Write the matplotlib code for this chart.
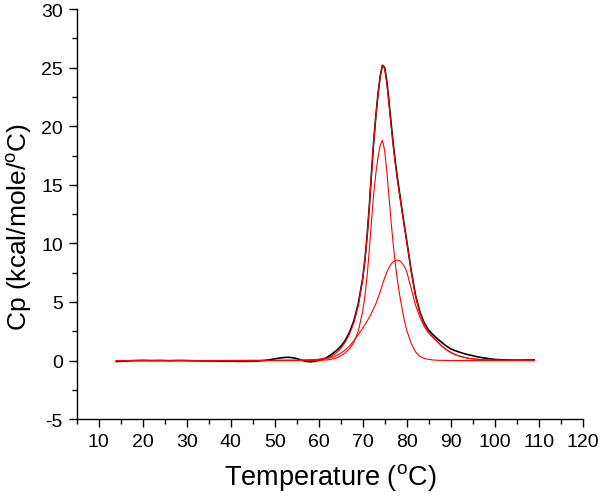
import matplotlib
matplotlib.use("Agg")
import matplotlib.pyplot as plt
from matplotlib.ticker import MultipleLocator

plt.rcParams['font.family'] = ['Liberation Sans', 'DejaVu Sans']
plt.rcParams['mathtext.fontset'] = 'custom'
plt.rcParams['mathtext.rm'] = 'Liberation Sans'
plt.rcParams['mathtext.it'] = 'Liberation Sans'
plt.rcParams['axes.unicode_minus'] = False

# measured DSC trace (black)
temp_exp = [14, 16, 18, 20, 22, 24, 26, 28, 30, 32, 34, 36, 38, 40, 42, 44, 46,
            48, 49, 50, 51, 52, 53, 54, 55, 56, 57, 58, 59, 60, 61, 62, 63, 64,
            65, 66, 67, 68, 69, 70, 70.5, 71, 71.5, 72, 72.5, 73, 73.5, 74, 74.5,
            75, 75.5, 76, 76.5, 77, 77.5, 78, 78.5, 79, 79.5, 80, 81, 82, 83, 84,
            85, 86, 87, 88, 89, 90, 91, 92, 93, 94, 95, 96, 97, 98, 99, 100, 102,
            104, 106, 109]
cp_exp = [-0.08, -0.04, 0.0, 0.02, 0.0, 0.01, -0.01, 0.01, 0.0, -0.02, -0.03,
          -0.03, -0.05, -0.05, -0.07, -0.06, -0.04,
          0.02, 0.08, 0.15, 0.21, 0.26, 0.28, 0.25, 0.17, 0.05, -0.06, -0.1,
          -0.07, 0.02, 0.12, 0.3, 0.55, 0.85,
          1.2, 1.7, 2.4, 3.4, 4.85, 7.0, 8.6, 10.6, 13.1, 16.0, 18.7, 20.9, 22.8,
          24.3, 25.2,
          25.0, 23.8, 22.0, 20.1, 18.3, 16.7, 15.3, 14.0, 12.7, 11.45, 10.25,
          7.75, 5.6, 4.15, 3.2,
          2.6, 2.2, 1.85, 1.55, 1.25, 1.0, 0.85, 0.72, 0.6, 0.5, 0.42, 0.33, 0.26,
          0.2, 0.15, 0.1, 0.06,
          0.04, 0.04, 0.05]

# fitted curves (red): two components and their sum
temp_fit = [14, 20, 30, 40, 50, 55, 58, 60,
            62, 63, 64, 65, 66, 67, 68, 69, 70,
            70.5, 71, 71.5, 72, 72.5, 73, 73.5, 74, 74.5, 75, 75.5, 76, 76.5, 77,
            77.5, 78, 78.5, 79, 79.5, 80,
            81, 82, 83, 84, 85, 86, 87, 88, 89, 90, 91, 92,
            94, 96, 98, 100, 104, 109]
cp_peak1 = [0, 0, 0, 0, 0, 0, 0.01, 0.02,
            0.06, 0.12, 0.22, 0.4, 0.65, 1.0, 1.55, 2.5, 4.2,
            5.5, 7.2, 9.4, 11.9, 14.2, 16.0, 17.4, 18.4, 18.8, 17.9, 16.1, 13.9,
            11.7, 9.7, 8.0, 6.6, 5.4, 4.35, 3.4, 2.6,
            1.5, 0.75, 0.35, 0.18, 0.1, 0.05, 0.03, 0.02, 0.01, 0.01, 0, 0,
            0, 0, 0, 0, 0, 0]
cp_peak2 = [0, 0, 0, 0.01, 0.02, 0.03, 0.05, 0.09,
            0.18, 0.28, 0.42, 0.62, 0.9, 1.25, 1.7, 2.2, 2.75,
            3.05, 3.35, 3.7, 4.05, 4.45, 4.85, 5.35, 5.9, 6.5, 7.05, 7.55, 7.95,
            8.25, 8.45, 8.55, 8.57, 8.5, 8.3, 8.0, 7.6,
            6.2, 4.75, 3.7, 2.9, 2.35, 1.95, 1.6, 1.22, 0.94, 0.7, 0.51, 0.38,
            0.2, 0.11, 0.06, 0.04, 0.02, 0.01]
cp_total = [0, 0, 0, 0.01, 0.02, 0.03, 0.06, 0.11,
            0.24, 0.4, 0.64, 1.02, 1.55, 2.25, 3.25, 4.7, 6.95,
            8.55, 10.55, 13.1, 15.95, 18.65, 20.85, 22.75, 24.3, 25.2, 24.95,
            23.65, 21.85, 19.95, 18.15, 16.55, 15.15, 13.9, 12.65, 11.4, 10.2,
            7.7, 5.5, 4.05, 3.08, 2.45, 2.0, 1.63, 1.24, 0.95, 0.71, 0.51, 0.38,
            0.2, 0.11, 0.06, 0.04, 0.02, 0.01]

fig = plt.figure(figsize=(6.0, 5.02), dpi=100)
ax = fig.add_axes([0.128, 0.163, 0.843, 0.817])

ax.plot(temp_exp, cp_exp, color='black', lw=1.2)
ax.plot(temp_fit, cp_total, color='red', lw=0.8)
ax.plot(temp_fit, cp_peak1, color='red', lw=0.8)
ax.plot(temp_fit, cp_peak2, color='red', lw=0.8)

ax.set_xlim(5, 120)
ax.set_ylim(-5, 30)
ax.xaxis.set_major_locator(MultipleLocator(10))
ax.xaxis.set_minor_locator(MultipleLocator(5))
ax.yaxis.set_major_locator(MultipleLocator(5))
ax.yaxis.set_minor_locator(MultipleLocator(2.5))
ax.set_xticks(range(10, 121, 10))

for s in ['top', 'right']:
    ax.spines[s].set_visible(False)
for s in ['left', 'bottom']:
    ax.spines[s].set_linewidth(1.0)

ax.tick_params(which='major', direction='out', length=6, width=1.0,
               labelsize=14, pad=4)
ax.tick_params(which='minor', direction='out', length=3.5, width=1.0)

ax.set_xlabel(r'Temperature ($^{\mathrm{o}}$C)', fontsize=19.5, labelpad=8)
ax.set_ylabel(r'Cp (kcal/mole/$^{\mathrm{o}}$C)', fontsize=19)
ax.yaxis.set_label_coords(-0.085, 0.47)

fig.savefig('out.png', dpi=100)
